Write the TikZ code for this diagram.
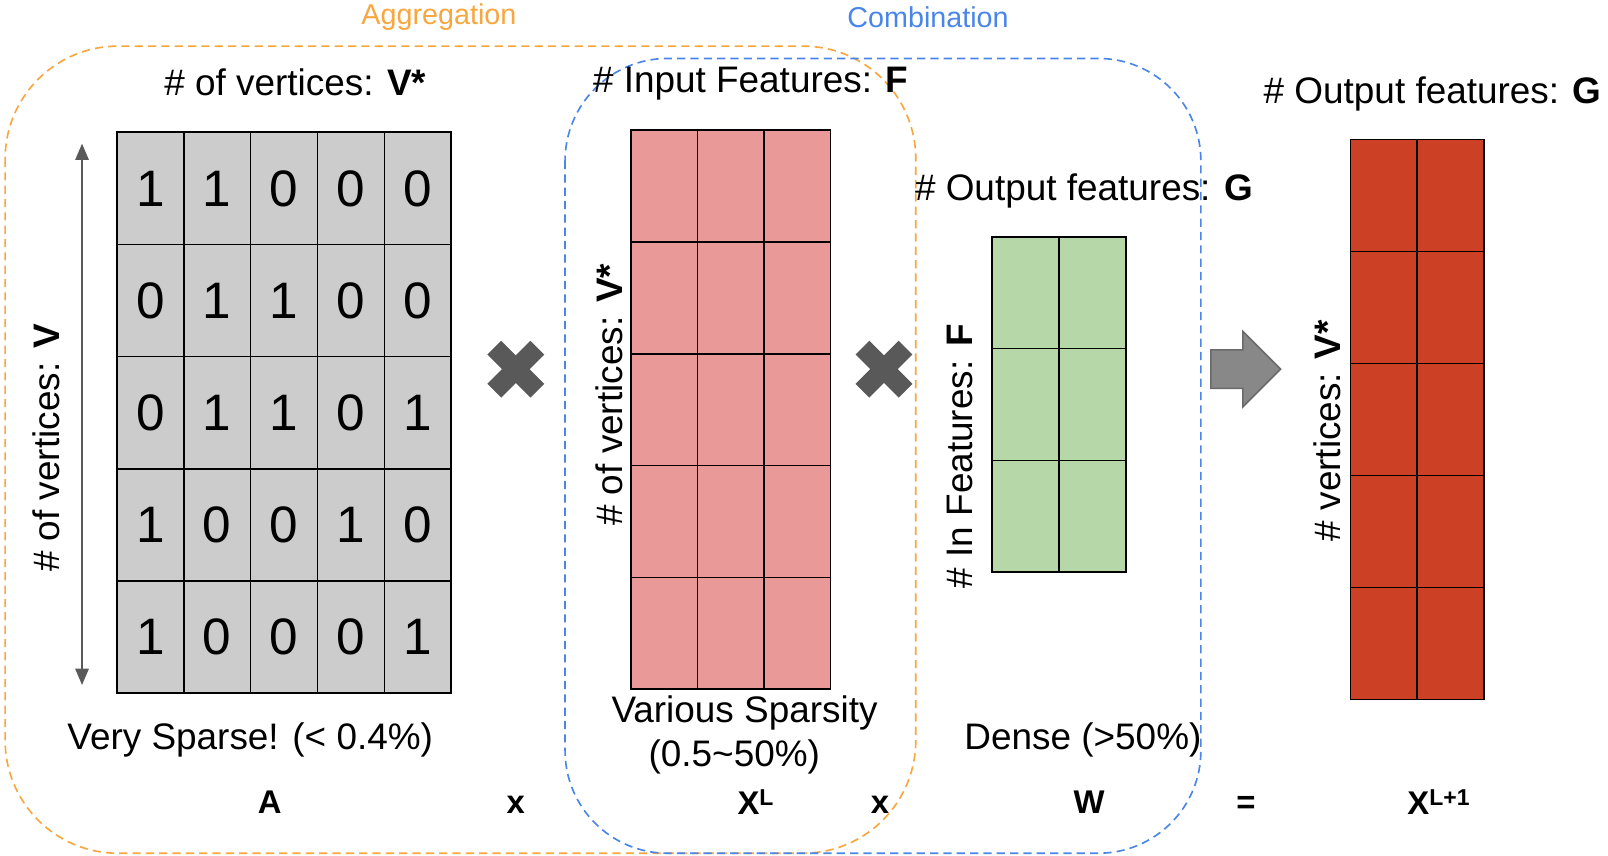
\documentclass[tikz,border=0pt]{standalone}
\usepackage{fontspec}
\setmainfont{Liberation Sans}
\usepackage{tikz}
\usetikzlibrary{arrows.meta,shapes.arrows}
\usepackage{xcolor}
\definecolor{AggColor}{HTML}{F9A63F}
\definecolor{CombColor}{HTML}{4A86E8}
\definecolor{CellGray}{HTML}{CCCCCC}
\definecolor{CellPink}{HTML}{EA9999}
\definecolor{CellGreen}{HTML}{B6D7A8}
\definecolor{CellRed}{HTML}{CC4125}
\definecolor{MarkGray}{HTML}{595959}
\definecolor{ArrowGray}{HTML}{888888}

\begin{document}
\begin{tikzpicture}[x=1pt,y=-1pt,
    every node/.style={font=\fontsize{36}{42}\selectfont,inner sep=0pt},
    cell/.style={rectangle,draw=black,line width=1.6pt,
                 minimum width=65pt,minimum height=109pt,
                 font=\fontsize{50}{50}\selectfont},
    title/.style={font=\fontsize{28}{30}\selectfont},
    sym/.style={font=\fontsize{32}{34}\selectfont\bfseries},
    region/.style={dash pattern=on 8pt off 5pt,line width=1.6pt,
                   rounded corners=110pt},
    xmark/.style={MarkGray,line width=19pt},
    bigarrow/.style={single arrow,fill=ArrowGray,draw=MarkGray!90,
                     line width=1.5pt,inner xsep=0pt,inner ysep=18pt,
                     minimum height=68pt,single arrow head extend=18pt}]
        \useasboundingbox (0,0) rectangle (1568,834);
        \draw[region,AggColor] (5,45) rectangle (893,832);
        \draw[region,CombColor,rounded corners=100pt] (551,57) rectangle (1171,832);
        \node[title,text=AggColor] (agg) at (428,17) {Aggregation};
        \node[title,text=CombColor] (comb) at (905,17) {Combination};
        % adjacency matrix
        \foreach \r/\vals in {1/{1,1,0,0,0},2/{0,1,1,0,0},3/{0,1,1,0,1},
                              4/{1,0,0,1,0},5/{1,0,0,0,1}}
          \foreach \v [count=\c] in \vals
            \node[cell,fill=CellGray,minimum width=65.2pt,minimum height=109.4pt]
              (a-\r-\c) at ({114+65.2*(\c-0.5)},{129+109.4*(\r-0.5)}) {\v};
        \node (atop) at (288,80) {\# of vertices: \textbf{V*}};
        \node[rotate=90] (aside) at (45,437) {\# of vertices: \textbf{V}};
        \coordinate (vtop) at (80,140);
        \coordinate (vbot) at (80,668);
        \draw[{Triangle[length=16pt,width=13pt]}-{Triangle[length=16pt,width=13pt]},
              MarkGray,line width=2pt] (vtop) -- (vbot);
        \node (asp) at (244,722) {Very Sparse! (< 0.4\%)};
        % input features
        \foreach \r in {1,...,5}
          \foreach \c in {1,2,3}
            \node[cell,fill=CellPink] (xl-\r-\c)
              at ({615+65*(\c-0.5)},{127+109*(\r-0.5)}) {};
        \node (xltop) at (732,82) {\# Input Features: \textbf{F}};
        \node[rotate=90] (xlside) at (594,385) {\# of vertices: \textbf{V*}};
        \node (xlsp1) at (726,695) {Various Sparsity};
        \node (xlsp2) at (716,738) {(0.5\textasciitilde50\%)};
        % weights
        \foreach \r in {1,2,3}
          \foreach \c in {1,2}
            \node[cell,fill=CellGreen,minimum width=65.5pt] (w-\r-\c)
              at ({967+65.5*(\c-0.5)},{231+109*(\r-0.5)}) {};
        \node (wtop) at (1057,186) {\# Output features: \textbf{G}};
        \node[rotate=90] (wside) at (936,445) {\# In Features: \textbf{F}};
        \node (wsp) at (1056,722) {Dense (>50\%)};
        % output features
        \foreach \r in {1,...,5}
          \foreach \c in {1,2}
            \node[cell,fill=CellRed,minimum height=109.2pt] (xo-\r-\c)
              at ({1317+65*(\c-0.5)},{136+109.2*(\r-0.5)}) {};
        \node (xotop) at (1397,92) {\# Output features: \textbf{G}};
        \node[rotate=90] (xoside) at (1294,420) {\# vertices: \textbf{V*}};
        % operators
        \coordinate (mul1) at (503,360);
        \coordinate (mul2) at (862,360);
        \foreach \m in {mul1,mul2}{
          \draw[xmark] ([shift={(-21,-21)}]\m) -- ([shift={(21,21)}]\m);
          \draw[xmark] ([shift={(-21,21)}]\m) -- ([shift={(21,-21)}]\m);
        }
        \node[bigarrow,anchor=tail] (res) at (1180,360) {};
        \node[sym] (sa) at (263,782) {A};
        \node[sym] (sx1) at (503,785) {x};
        \node[sym] (sxl) at (737,782) {X\textsuperscript{L}};
        \node[sym] (sx2) at (858,785) {x};
        \node[sym] (sw) at (1062,782) {W};
        \node[sym] (seq) at (1215,785) {=};
        \node[sym] (sxo) at (1403,782) {X\textsuperscript{L+1}};
      \end{tikzpicture}
\end{document}
